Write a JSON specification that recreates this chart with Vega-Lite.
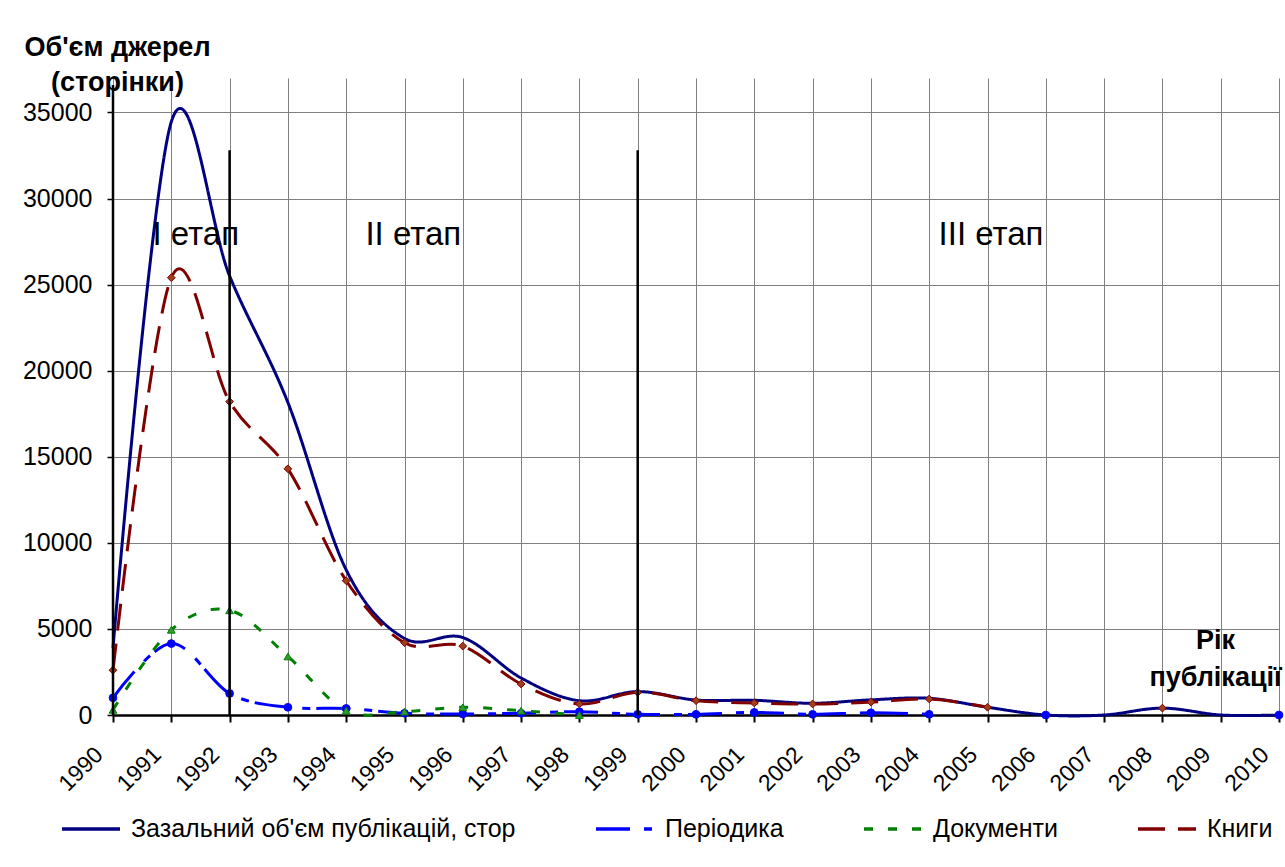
{
  "$schema": "https://vega.github.io/schema/vega-lite/v6.json",
  "width": 1166,
  "height": 637,
  "autosize": {"type": "none"},
  "padding": {"left": 113, "top": 78, "right": 6, "bottom": 152},
  "background": "white",
  "config": {"view": {"stroke": null}, "font": "Liberation Sans"},
  "datasets": {
    "series": [
      {"s": "T", "year": 1990, "value": 3900},
      {"s": "T", "year": 1991, "value": 34450},
      {"s": "T", "year": 1992, "value": 25500},
      {"s": "T", "year": 1993, "value": 18150},
      {"s": "T", "year": 1994, "value": 8430},
      {"s": "T", "year": 1995, "value": 4450},
      {"s": "T", "year": 1996, "value": 4500},
      {"s": "T", "year": 1997, "value": 2150},
      {"s": "T", "year": 1998, "value": 830},
      {"s": "T", "year": 1999, "value": 1360},
      {"s": "T", "year": 2000, "value": 870},
      {"s": "T", "year": 2001, "value": 855},
      {"s": "T", "year": 2002, "value": 680},
      {"s": "T", "year": 2003, "value": 880},
      {"s": "T", "year": 2004, "value": 970},
      {"s": "T", "year": 2005, "value": 450},
      {"s": "T", "year": 2006, "value": 0},
      {"s": "T", "year": 2007, "value": 0},
      {"s": "T", "year": 2008, "value": 400},
      {"s": "T", "year": 2009, "value": 0},
      {"s": "T", "year": 2010, "value": 0},
      {"s": "P", "year": 1990, "value": 1000},
      {"s": "P", "year": 1991, "value": 4150},
      {"s": "P", "year": 1992, "value": 1250},
      {"s": "P", "year": 1993, "value": 450},
      {"s": "P", "year": 1994, "value": 380},
      {"s": "P", "year": 1995, "value": 100},
      {"s": "P", "year": 1996, "value": 60},
      {"s": "P", "year": 1997, "value": 100},
      {"s": "P", "year": 1998, "value": 190},
      {"s": "P", "year": 1999, "value": 40},
      {"s": "P", "year": 2000, "value": 40},
      {"s": "P", "year": 2001, "value": 150},
      {"s": "P", "year": 2002, "value": 40},
      {"s": "P", "year": 2003, "value": 130},
      {"s": "P", "year": 2004, "value": 40},
      {"s": "P", "year": 2005, "value": null},
      {"s": "P", "year": 2006, "value": 0},
      {"s": "P", "year": 2007, "value": null},
      {"s": "P", "year": 2008, "value": null},
      {"s": "P", "year": 2009, "value": null},
      {"s": "P", "year": 2010, "value": 0},
      {"s": "D", "year": 1990, "value": 300},
      {"s": "D", "year": 1991, "value": 4950},
      {"s": "D", "year": 1992, "value": 6080},
      {"s": "D", "year": 1993, "value": 3400},
      {"s": "D", "year": 1994, "value": 250},
      {"s": "D", "year": 1995, "value": 200},
      {"s": "D", "year": 1996, "value": 450},
      {"s": "D", "year": 1997, "value": 250},
      {"s": "D", "year": 1998, "value": 0},
      {"s": "K", "year": 1990, "value": 2600},
      {"s": "K", "year": 1991, "value": 25400},
      {"s": "K", "year": 1992, "value": 18200},
      {"s": "K", "year": 1993, "value": 14300},
      {"s": "K", "year": 1994, "value": 7800},
      {"s": "K", "year": 1995, "value": 4200},
      {"s": "K", "year": 1996, "value": 4000},
      {"s": "K", "year": 1997, "value": 1800},
      {"s": "K", "year": 1998, "value": 640},
      {"s": "K", "year": 1999, "value": 1320},
      {"s": "K", "year": 2000, "value": 830},
      {"s": "K", "year": 2001, "value": 700},
      {"s": "K", "year": 2002, "value": 640},
      {"s": "K", "year": 2003, "value": 750},
      {"s": "K", "year": 2004, "value": 930},
      {"s": "K", "year": 2005, "value": 450},
      {"s": "K", "year": 2006, "value": null},
      {"s": "K", "year": 2007, "value": null},
      {"s": "K", "year": 2008, "value": 400}
    ],
    "stages": [
      {"year": 1990, "top": 36600, "bottom": 0},
      {"year": 1992, "top": 32800, "bottom": 0},
      {"year": 1999, "top": 32800, "bottom": 0}
    ],
    "labels": [
      {"stage": "І етап", "year": 1991.42, "value": 27900},
      {"stage": "ІІ етап", "year": 1995.15, "value": 27900},
      {"stage": "ІІІ етап", "year": 2005.06, "value": 27900}
    ]
  },
  "layer": [
    {
      "data": {"name": "series"},
      "mark": {"type": "line", "interpolate": "cardinal", "strokeWidth": 3, "invalid": "break-paths-show-domains"},
      "encoding": {
        "x": {
          "field": "year", "type": "quantitative",
          "scale": {"domain": [1990, 2010], "nice": false, "zero": false},
          "axis": {
            "values": [1990,1991,1992,1993,1994,1995,1996,1997,1998,1999,2000,2001,2002,2003,2004,2005,2006,2007,2008,2009,2010],
            "format": "d",
            "labelAngle": -45,
            "labelAlign": "right",
            "labelBaseline": "top",
            "labelFontSize": 23,
            "labelColor": "black",
            "labelOffset": -22,
            "labelPadding": 21,
            "labelFlush": false,
            "labelOverlap": false,
            "grid": true,
            "gridColor": "#808080",
            "gridWidth": 1,
            "domainColor": "black",
            "domainWidth": 2.5,
            "tickColor": "black",
            "tickWidth": 2,
            "tickSize": 7,
            "title": ["Рік", "публікації"],
            "titleFontSize": 27,
            "titleFontWeight": "bold",
            "titleColor": "black",
            "titleAngle": 0,
            "titleAlign": "center",
            "titleBaseline": "alphabetic",
            "titleX": 1102,
            "titleY": -67,
            "titleLineHeight": 37
          }
        },
        "y": {
          "field": "value", "type": "quantitative",
          "scale": {"domain": [0, 37000], "nice": false},
          "axis": {
            "values": [0, 5000, 10000, 15000, 20000, 25000, 30000, 35000],
            "format": "d",
            "labelFontSize": 25,
            "labelColor": "black",
            "labelPadding": 15,
            "grid": true,
            "gridColor": "#808080",
            "gridWidth": 1,
            "domain": false,
            "tickColor": "black",
            "tickWidth": 1.5,
            "tickSize": 6,
            "title": ["Об'єм джерел", "(сторінки)"],
            "titleFontSize": 27,
            "titleFontWeight": "bold",
            "titleColor": "black",
            "titleAngle": 0,
            "titleAlign": "center",
            "titleBaseline": "alphabetic",
            "titleX": 4,
            "titleY": -23,
            "titleLineHeight": 35
          }
        },
        "color": {
          "field": "s", "type": "nominal",
          "scale": {"domain": ["T", "P", "D", "K"], "range": ["#000080", "#0000FF", "#008000", "#800000"]},
          "legend": {
            "title": null,
            "orient": "none",
            "legendX": -53,
            "legendY": 720,
            "direction": "horizontal",
            "columns": 4,
            "columnPadding": 73,
            "gridAlign": "each",
            "symbolType": "stroke",
            "symbolSize": 3364,
            "symbolStrokeWidth": 3.5,
            "labelFontSize": 25,
            "labelColor": "black",
            "labelOffset": 9,
            "labelLimit": 700,
            "labelExpr": "datum.value == 'T' ? \"Зазальний об'єм публікацій, стор\" : datum.value == 'P' ? 'Періодика' : datum.value == 'D' ? 'Документи' : 'Книги'"
          }
        },
        "strokeDash": {
          "field": "s", "type": "nominal",
          "scale": {"domain": ["T", "P", "D", "K"], "range": [[1, 0], [34, 14, 8, 6], [9, 15], [27, 13]]},
          "legend": {
            "title": null,
            "orient": "none",
            "legendX": -53,
            "legendY": 720,
            "direction": "horizontal",
            "columns": 4,
            "columnPadding": 73,
            "gridAlign": "each",
            "symbolType": "stroke",
            "symbolSize": 3364,
            "symbolStrokeWidth": 3.5,
            "labelFontSize": 25,
            "labelColor": "black",
            "labelOffset": 9,
            "labelLimit": 700,
            "labelExpr": "datum.value == 'T' ? \"Зазальний об'єм публікацій, стор\" : datum.value == 'P' ? 'Періодика' : datum.value == 'D' ? 'Документи' : 'Книги'"
          }
        },
        "order": {"field": "year", "type": "quantitative"}
      }
    },
    {
      "data": {"name": "series"},
      "transform": [{"filter": "datum.s != 'T' && isValid(datum.value)"}],
      "mark": {"type": "point", "filled": true, "opacity": 1, "strokeWidth": 1, "size": 60},
      "encoding": {
        "x": {"field": "year", "type": "quantitative"},
        "y": {"field": "value", "type": "quantitative"},
        "shape": {"field": "s", "type": "nominal", "scale": {"domain": ["P", "D", "K"], "range": ["circle", "triangle-up", "diamond"]}, "legend": null},
        "fill": {"field": "s", "type": "nominal", "scale": {"domain": ["P", "D", "K"], "range": ["#0000FF", "#339933", "#A0401A"]}, "legend": null},
        "stroke": {"field": "s", "type": "nominal", "scale": {"domain": ["P", "D", "K"], "range": ["#0000FF", "#008000", "#800000"]}, "legend": null}
      }
    },
    {
      "data": {"name": "stages"},
      "mark": {"type": "rule", "color": "black", "strokeWidth": 2.5},
      "encoding": {
        "x": {"field": "year", "type": "quantitative"},
        "y": {"field": "top", "type": "quantitative"},
        "y2": {"field": "bottom"}
      }
    },
    {
      "data": {"name": "labels"},
      "mark": {"type": "text", "fontSize": 33, "align": "center", "baseline": "middle", "color": "black"},
      "encoding": {
        "x": {"field": "year", "type": "quantitative"},
        "y": {"field": "value", "type": "quantitative"},
        "text": {"field": "stage"}
      }
    }
  ]
}
